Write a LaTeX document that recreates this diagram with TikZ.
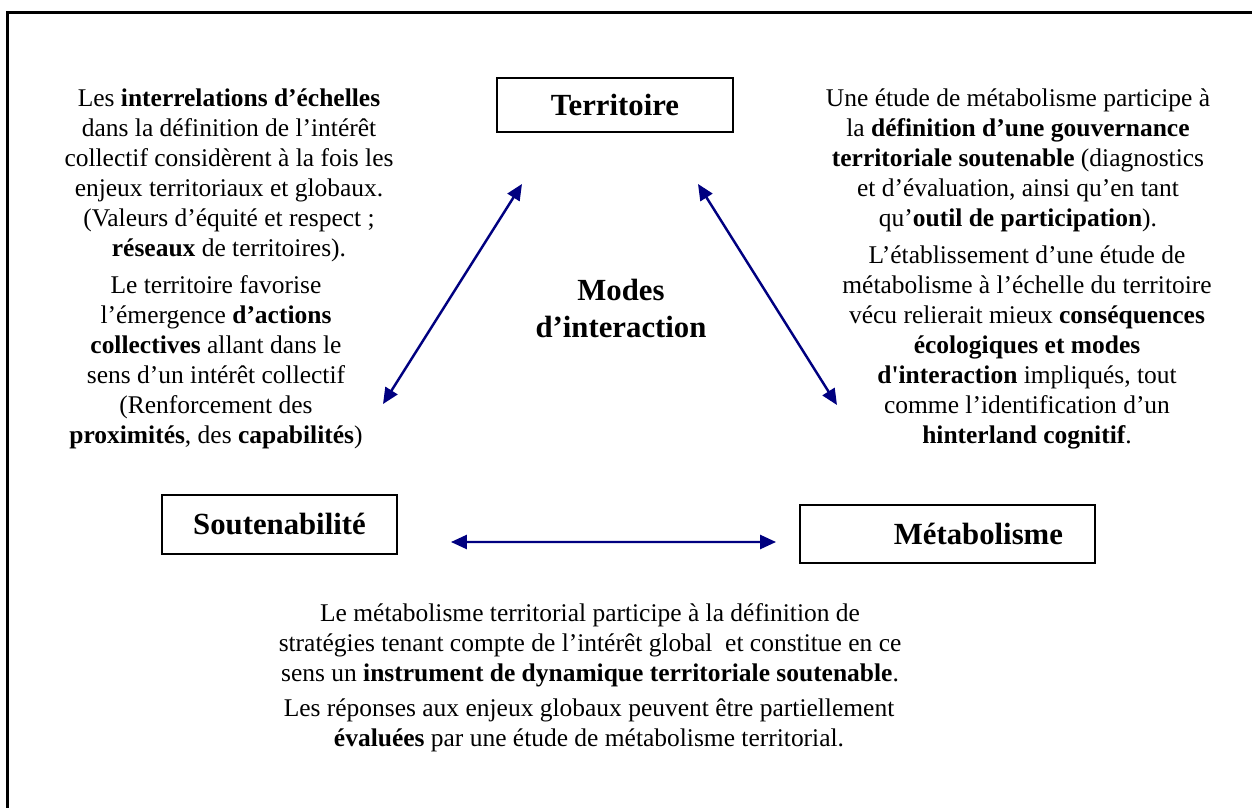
\documentclass[tikz,border=0pt]{standalone}
\usepackage{fontspec}
\setmainfont{Liberation Serif}
\usepackage{xcolor}
\usepackage{tikz}
\usetikzlibrary{arrows.meta,calc}
\definecolor{linkblue}{RGB}{0,0,128}

\begin{document}
\begin{tikzpicture}[
  x=0.02cm, y=-0.02cm,
  font=\fontsize{14.5}{17.07}\selectfont,
  box/.style={draw, line width=1.1pt, inner sep=0pt,
              font=\fontsize{17.5}{21.05}\selectfont\bfseries},
  txt/.style={align=center, inner sep=0pt},
  arr/.style={{Triangle[length=3.2mm,width=2.8mm]}-{Triangle[length=3.2mm,width=2.8mm]},
              line width=1.4pt, draw=linkblue}
]
\useasboundingbox (0,0) rectangle (1252,808);
% --- outer frame (cut at right and bottom) ---
\draw[line width=1.5pt] (7.5,820) -- (7.5,12.5) -- (1260,12.5);

% --- the three poles ---
\node[box, minimum width=4.72cm, minimum height=1.08cm] (terr) at (615,105) {Territoire};
\node[box, minimum width=4.7cm, minimum height=1.18cm] (sout) at (279.5,524.5) {Soutenabilité};
\node[box, minimum width=5.9cm, minimum height=1.16cm, text width=4.62cm,
      align=right, inner xsep=0.64cm] (metab) at (947.5,534) {Métabolisme};

\node[txt, font=\fontsize{17.5}{21.05}\selectfont\bfseries] (modes) at (621,308)
  {Modes\\d’interaction};

\draw[arr] ($(terr.south)+(-93,51)$) -- ($(sout.north)+(103.5,-90)$);
\draw[arr] ($(terr.south)+(83,51)$) -- ($(metab.north)+(-110.5,-99)$);
\draw[arr] ($(sout.east)+(53,17.5)$) -- ($(metab.west)+(-23,8)$);

% --- left texts ---
\node[txt] (scaleL) at (229,175) {%
  Les \textbf{interrelations d’échelles}\\
  dans la définition de l’intérêt\\
  collectif considèrent à la fois les\\
  enjeux territoriaux et globaux.\\
  (Valeurs d’équité et respect ;\\
  \textbf{réseaux} de territoires).};
\node[txt] (actL) at (216,362) {%
  Le territoire favorise\\
  l’émergence \textbf{d’actions}\\
  \textbf{collectives} allant dans le\\
  sens d’un intérêt collectif\\
  (Renforcement des\\
  \textbf{proximités}, des \textbf{capabilités})};

% --- right texts ---
\node[txt] (govR) at (1018,160) {%
  Une étude de métabolisme participe à\\
  la \textbf{définition d’une gouvernance}\\
  \textbf{territoriale soutenable} (diagnostics\\
  et d’évaluation, ainsi qu’en tant\\
  qu’\textbf{outil de participation}).};
\node[txt] (hintR) at (1027,347) {%
  L’établissement d’une étude de\\
  métabolisme à l’échelle du territoire\\
  vécu relierait mieux \textbf{conséquences}\\
  \textbf{écologiques et modes}\\
  \textbf{d\textquotesingle interaction} impliqués, tout\\
  comme l’identification d’un\\
  \textbf{hinterland cognitif}.};

% --- bottom texts ---
\node[txt] (stratB) at (590,645) {%
  Le métabolisme territorial participe à la définition de\\
  stratégies tenant compte de l’intérêt global\ \ et constitue en ce\\
  sens un \textbf{instrument de dynamique territoriale soutenable}.};
\node[txt] (evalB) at (589,725) {%
  Les réponses aux enjeux globaux peuvent être partiellement\\
  \textbf{évaluées} par une étude de métabolisme territorial.};
\end{tikzpicture}
\end{document}
